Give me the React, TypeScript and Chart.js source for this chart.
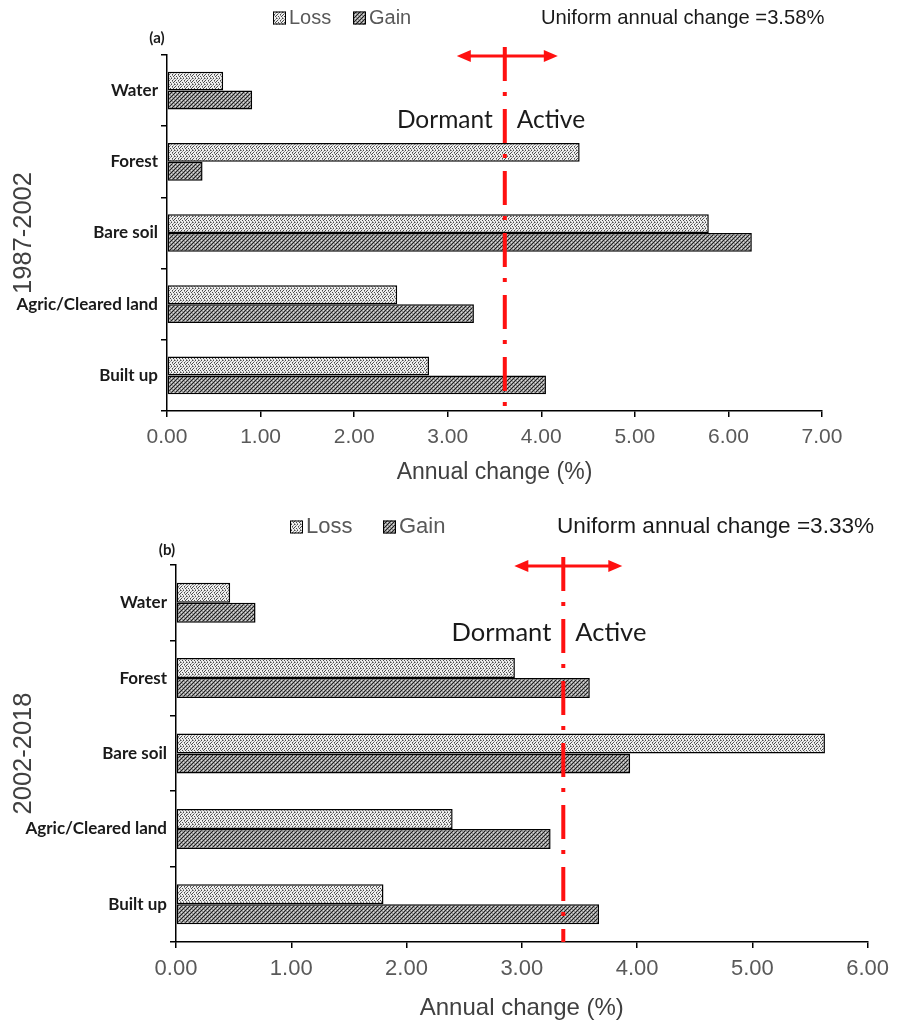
import React, { useEffect, useRef } from "react";
import { Chart, registerables } from "chart.js";

Chart.register(...registerables);

// ---------- data ----------
const categories = ["Water", "Forest", "Bare soil", "Agric/Cleared land", "Built up"];
const seriesNames = ["Loss", "Gain"];

const loss1987 = [0.6, 4.41, 5.79, 2.46, 2.8];
const gain1987 = [0.91, 0.38, 6.25, 3.28, 4.05];
const loss2002 = [0.47, 2.94, 5.63, 2.4, 1.8];
const gain2002 = [0.69, 3.59, 3.94, 3.25, 3.67];

const uniformLabel1987 = "Uniform annual change =3.58%";
const uniformLabel2002 = "Uniform annual change =3.33%";
const uniformLine1987 = 3.61;
const uniformLine2002 = 3.36;

const xMax1987 = 7;
const xMax2002 = 6;

const periodTitle1987 = "1987-2002";
const periodTitle2002 = "2002-2018";
const panelTag1987 = "(a)";
const panelTag2002 = "(b)";
const xTitle = "Annual change (%)";
const dormantText = "Dormant";
const activeText = "Active";

// ---------- styles / layout ----------
const W = 897;
const SANS = "'Liberation Sans', Arial, sans-serif";
const CAL = "Lato, 'Open Sans', sans-serif";

type PanelCfg = {
  top: number;
  height: number;
  left: number;
  right: number;
  areaTop: number;
  areaBottom: number;
  loss: number[];
  gain: number[];
  xMax: number;
  line: number;
  uniformLabel: string;
  periodTitle: string;
  tag: string;
  tagX: number;
  tagY: number;
  legendY: number;
  lossBoxX: number;
  gainBoxX: number;
  uniformX: number;
  arrowY: number;
  arrowLeft: number;
  arrowRight: number;
  dormantY: number;
  titleY: number;
  fsLegend: number;
  fsUniform: number;
  fsTick: number;
  fsTitle: number;
  fsDormant: number;
};

const panelA: PanelCfg = {
  top: 0,
  height: 500,
  left: 167,
  right: 822,
  areaTop: 55,
  areaBottom: 411,
  loss: loss1987,
  gain: gain1987,
  xMax: xMax1987,
  line: uniformLine1987,
  uniformLabel: uniformLabel1987,
  periodTitle: periodTitle1987,
  tag: panelTag1987,
  tagX: 157,
  tagY: 38,
  legendY: 18,
  lossBoxX: 273,
  gainBoxX: 353,
  uniformX: 541,
  arrowY: 56,
  arrowLeft: 48,
  arrowRight: 53,
  dormantY: 120,
  titleY: 473,
  fsLegend: 20,
  fsUniform: 20.2,
  fsTick: 21,
  fsTitle: 23,
  fsDormant: 24.5,
};

const panelB: PanelCfg = {
  top: 500,
  height: 527,
  left: 176,
  right: 870,
  areaTop: 65,
  areaBottom: 442,
  loss: loss2002,
  gain: gain2002,
  xMax: xMax2002,
  line: uniformLine2002,
  uniformLabel: uniformLabel2002,
  periodTitle: periodTitle2002,
  tag: panelTag2002,
  tagX: 167,
  tagY: 50,
  legendY: 27,
  lossBoxX: 290,
  gainBoxX: 383,
  uniformX: 557,
  arrowY: 66,
  arrowLeft: 49,
  arrowRight: 59,
  dormantY: 133,
  titleY: 508,
  fsLegend: 22,
  fsUniform: 22.6,
  fsTick: 22,
  fsTitle: 24,
  fsDormant: 25.5,
};

function makeLossPattern(): CanvasPattern | string {
  const c = document.createElement("canvas");
  c.width = 6;
  c.height = 6;
  const g = c.getContext("2d");
  if (!g) return "#d0d0d0";
  g.fillStyle = "#efefef";
  g.fillRect(0, 0, 6, 6);
  g.fillStyle = "#4a4a4a";
  [[0, 0], [3, 0], [1, 2], [4, 2], [2, 4], [5, 4], [0, 3]].forEach(([x, y]) => g.fillRect(x, y, 1, 1));
  g.fillStyle = "#999999";
  [[2, 1], [5, 1], [0, 5], [3, 5], [4, 3], [1, 0]].forEach(([x, y]) => g.fillRect(x, y, 1, 1));
  return g.createPattern(c, "repeat") || "#d0d0d0";
}

function makeGainPattern(): CanvasPattern | string {
  const c = document.createElement("canvas");
  c.width = 4;
  c.height = 4;
  const g = c.getContext("2d");
  if (!g) return "#777";
  g.fillStyle = "#959595";
  g.fillRect(0, 0, 4, 4);
  g.fillStyle = "#202020";
  [[3, 0], [2, 1], [1, 2], [0, 3]].forEach(([x, y]) => g.fillRect(x, y, 1, 1));
  g.fillStyle = "#dedede";
  [[1, 0], [3, 2]].forEach(([x, y]) => g.fillRect(x, y, 1, 1));
  return g.createPattern(c, "repeat") || "#777";
}

function overlayPlugin(cfg: PanelCfg, lossFill: any, gainFill: any) {
  return {
    id: "overlay",
    afterDatasetsDraw(chart: any) {
      const ctx: CanvasRenderingContext2D = chart.ctx;
      const xs = chart.scales.x;
      const area = chart.chartArea;
      const lx = xs.getPixelForValue(cfg.line);
      const red = "#ff1010";
      ctx.save();
      // dash-dot line
      ctx.strokeStyle = red;
      ctx.lineWidth = 4;
      ctx.setLineDash([34, 11, 4, 13]);
      ctx.beginPath();
      ctx.moveTo(lx, cfg.arrowY - 9);
      ctx.lineTo(lx, area.bottom);
      ctx.stroke();
      ctx.setLineDash([]);
      // double arrow
      const ax0 = lx - cfg.arrowLeft;
      const ax1 = lx + cfg.arrowRight;
      ctx.lineWidth = 3;
      ctx.beginPath();
      ctx.moveTo(ax0 + 10, cfg.arrowY);
      ctx.lineTo(ax1 - 10, cfg.arrowY);
      ctx.stroke();
      ctx.fillStyle = red;
      ctx.beginPath();
      ctx.moveTo(ax0, cfg.arrowY);
      ctx.lineTo(ax0 + 14, cfg.arrowY - 6);
      ctx.lineTo(ax0 + 14, cfg.arrowY + 6);
      ctx.closePath();
      ctx.fill();
      ctx.beginPath();
      ctx.moveTo(ax1, cfg.arrowY);
      ctx.lineTo(ax1 - 14, cfg.arrowY - 6);
      ctx.lineTo(ax1 - 14, cfg.arrowY + 6);
      ctx.closePath();
      ctx.fill();

      // Dormant / Active
      ctx.fillStyle = "#1a1a1a";
      ctx.font = `${cfg.fsDormant}px ${CAL}`;
      ctx.textBaseline = "middle";
      ctx.textAlign = "right";
      ctx.fillText(dormantText, lx - 12, cfg.dormantY);
      ctx.textAlign = "left";
      ctx.fillText(activeText, lx + 12, cfg.dormantY);

      // legend
      const bs = 13;
      const drawBox = (x: number, fill: any) => {
        ctx.fillStyle = fill;
        ctx.fillRect(x, cfg.legendY - bs / 2, bs, bs);
        ctx.strokeStyle = "#000";
        ctx.lineWidth = 1;
        ctx.strokeRect(x + 0.5, cfg.legendY - bs / 2 + 0.5, bs - 1, bs - 1);
      };
      drawBox(cfg.lossBoxX, lossFill);
      drawBox(cfg.gainBoxX, gainFill);
      ctx.fillStyle = "#595959";
      ctx.font = `${cfg.fsLegend}px ${SANS}`;
      ctx.textAlign = "left";
      ctx.fillText(seriesNames[0], cfg.lossBoxX + bs + 3, cfg.legendY);
      ctx.fillText(seriesNames[1], cfg.gainBoxX + bs + 3, cfg.legendY);

      // uniform label
      ctx.fillStyle = "#1a1a1a";
      ctx.font = `${cfg.fsUniform}px ${SANS}`;
      ctx.fillText(cfg.uniformLabel, cfg.uniformX, cfg.legendY);

      // panel tag
      ctx.font = `bold 15px ${CAL}`;
      ctx.textAlign = "center";
      ctx.fillText(cfg.tag, cfg.tagX, cfg.tagY);

      // x title
      ctx.fillStyle = "#404040";
      ctx.font = `${cfg.fsTitle}px ${SANS}`;
      ctx.fillText(xTitle, (area.left + area.right) / 2, cfg.titleY);

      // y title (rotated)
      ctx.save();
      ctx.translate(24, (area.top + area.bottom) / 2);
      ctx.rotate(-Math.PI / 2);
      ctx.fillStyle = "#404040";
      ctx.font = `25.5px ${SANS}`;
      ctx.fillText(cfg.periodTitle, 0, 0);
      ctx.restore();

      ctx.restore();
    },
  };
}

function Panel({ cfg }: { cfg: PanelCfg }) {
  const ref = useRef<HTMLCanvasElement>(null);
  useEffect(() => {
    if (!ref.current) return;
    const lossFill = makeLossPattern();
    const gainFill = makeGainPattern();
    const chart = new Chart(ref.current, {
      type: "bar",
      data: {
        labels: categories,
        datasets: [
          {
            label: seriesNames[0],
            data: cfg.loss,
            backgroundColor: lossFill as any,
            borderColor: "#000",
            borderWidth: 1.5,
            borderSkipped: false,
            barPercentage: 1,
            categoryPercentage: 0.53,
          },
          {
            label: seriesNames[1],
            data: cfg.gain,
            backgroundColor: gainFill as any,
            borderColor: "#000",
            borderWidth: 1.5,
            borderSkipped: false,
            barPercentage: 1,
            categoryPercentage: 0.53,
          },
        ],
      },
      options: {
        indexAxis: "y",
        responsive: false,
        animation: false,
        devicePixelRatio: 1,
        layout: {
          padding: { top: cfg.areaTop, right: W - cfg.right, left: 0, bottom: 0 },
        },
        plugins: {
          legend: { display: false },
          tooltip: { enabled: false },
        },
        scales: {
          x: {
            min: 0,
            max: cfg.xMax,
            afterFit: (s: any) => {
              s.height = cfg.height - cfg.areaBottom;
            },
            ticks: {
              stepSize: 1,
              callback: (v: any) => Number(v).toFixed(2),
              font: { family: SANS, size: cfg.fsTick },
              color: "#595959",
              padding: 8,
            },
            grid: { drawOnChartArea: false, tickLength: 6, color: "#000", lineWidth: 1.5 },
            border: { color: "#000", width: 1.5 },
          },
          y: {
            afterFit: (s: any) => {
              s.width = cfg.left;
            },
            ticks: {
              font: { family: CAL, size: 17, weight: "bold" },
              color: "#1a1a1a",
              padding: 3,
            },
            grid: { drawOnChartArea: false, offset: true, tickLength: 6, color: "#000", lineWidth: 1.5 },
            border: { color: "#000", width: 1.5 },
          },
        },
      },
      plugins: [overlayPlugin(cfg, lossFill, gainFill)],
    } as any);
    return () => chart.destroy();
  }, [cfg]);
  return (
    <div style={{ position: "absolute", left: 0, top: cfg.top, width: W, height: cfg.height }}>
      <canvas ref={ref} width={W} height={cfg.height} style={{ width: W, height: cfg.height, display: "block" }} />
    </div>
  );
}

export default function App() {
  return (
    <div style={{ position: "absolute", left: 0, top: 0, width: W, height: 1027, background: "#fff" }}>
      <Panel cfg={panelA} />
      <Panel cfg={panelB} />
    </div>
  );
}
